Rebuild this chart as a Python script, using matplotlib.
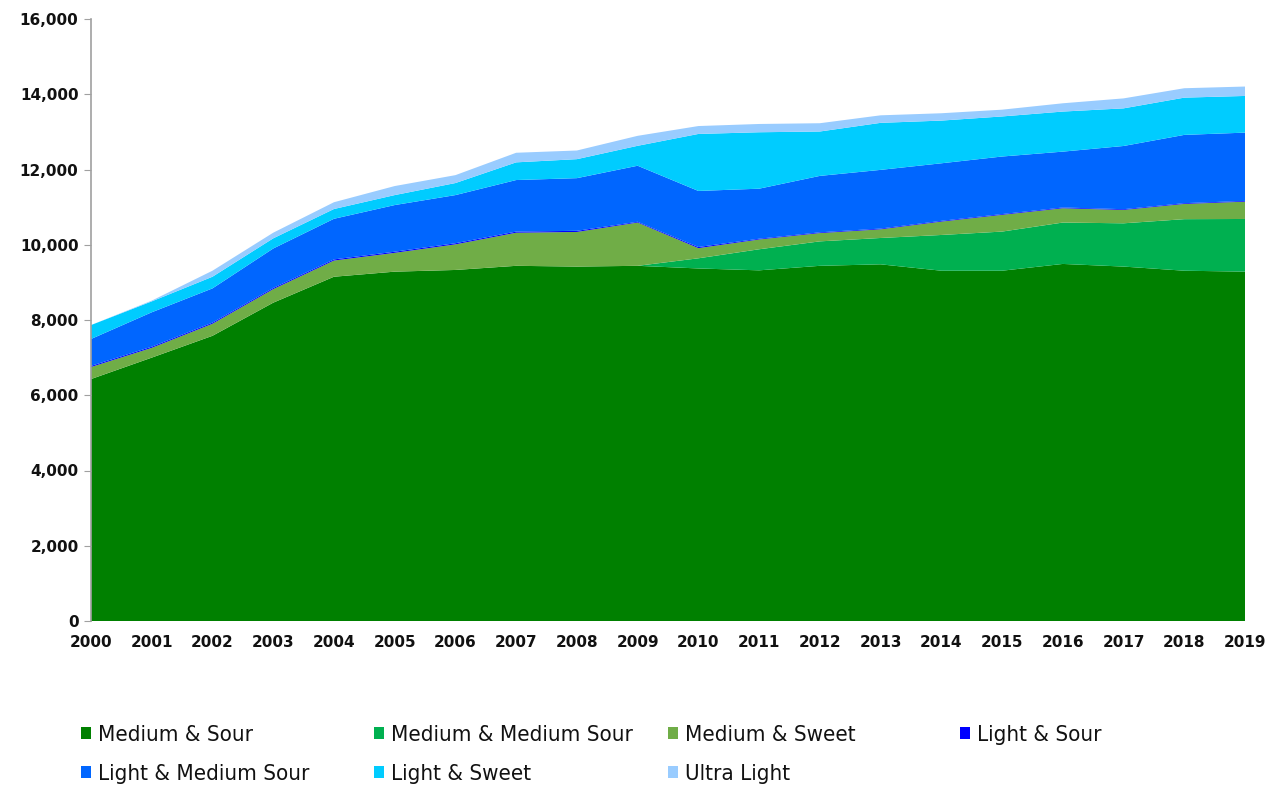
import numpy as np
import matplotlib.pyplot as plt
from matplotlib.ticker import FuncFormatter

years = list(range(2000, 2020))

medium_sour = [6430, 7000, 7580, 8460, 9150, 9285, 9330, 9440, 9420, 9440,
               9370, 9320, 9440, 9480, 9310, 9310, 9490, 9420, 9310, 9285]
medium_medium_sour = [0, 0, 0, 0, 0, 0, 0, 0, 0, 0,
                      270, 560, 650, 700, 950, 1040, 1100, 1150, 1370, 1400]
medium_sweet = [320, 260, 320, 360, 430, 500, 680, 880, 920, 1150,
                270, 260, 220, 230, 355, 445, 380, 355, 405, 460]
light_sour = [30, 30, 30, 30, 30, 30, 30, 30, 30, 20,
              30, 20, 20, 20, 20, 20, 20, 20, 20, 20]
light_medium_sour = [715, 915, 910, 1050, 1080, 1240, 1280, 1370, 1400, 1490,
                     1490, 1330, 1500, 1560, 1530, 1530, 1485, 1680, 1815, 1815]
light_sweet = [370, 290, 310, 270, 260, 265, 320, 470, 505, 530,
               1515, 1500, 1180, 1250, 1135, 1065, 1065, 1000, 990, 975]
ultra_light = [0, 20, 160, 150, 180, 240, 210, 255, 230, 265,
               210, 220, 220, 200, 195, 180, 220, 265, 250, 250]

labels = ['Medium & Sour', 'Medium & Medium Sour', 'Medium & Sweet', 'Light & Sour',
          'Light & Medium Sour', 'Light & Sweet', 'Ultra Light']
colors = ['#008000', '#00B050', '#70AD47', '#0000FF', '#0066FF', '#00CCFF', '#99CCFF']
series = [medium_sour, medium_medium_sour, medium_sweet, light_sour,
          light_medium_sour, light_sweet, ultra_light]

fig = plt.figure(figsize=(12.82, 7.89), dpi=100)
ax = fig.add_axes([91 / 1282, 168 / 789, 1154 / 1282, 602 / 789])

polys = ax.stackplot(years, *series, colors=colors, labels=labels, linewidth=0)

ax.set_xlim(2000, 2019)
ax.set_ylim(0, 16000)
ax.set_xticks(years)
ax.set_yticks(np.arange(0, 16001, 2000))
ax.yaxis.set_major_formatter(FuncFormatter(lambda v, p: f'{int(v):,}'))

for lab in ax.get_xticklabels() + ax.get_yticklabels():
    lab.set_fontweight('bold')
    lab.set_fontsize(11)
    lab.set_color('#111111')

for side in ['top', 'right', 'bottom']:
    ax.spines[side].set_visible(False)
ax.spines['left'].set_color('#A0A0A0')
ax.spines['left'].set_linewidth(1.2)
ax.tick_params(axis='y', length=5, color='#A0A0A0', pad=4)
ax.tick_params(axis='x', length=0, pad=10)

# legend laid out as four columns of two rows
columns = [[0, 4], [1, 5], [2, 6], [3]]
col_x = [70, 363, 657, 949]
for cx, idx in zip(col_x, columns):
    leg = fig.legend([polys[i] for i in idx], [labels[i] for i in idx],
                     loc='upper left', bbox_to_anchor=(cx / 1282, 1 - 714 / 789),
                     frameon=False, ncol=1, handlelength=0.45, handleheight=0.45,
                     handletextpad=0.3, labelspacing=0.85, borderpad=0,
                     prop={'family': 'DejaVu Sans', 'stretch': 'condensed',
                           'size': 16})
    for t in leg.get_texts():
        t.set_color('#111111')

fig.savefig('out.png', dpi=100)
